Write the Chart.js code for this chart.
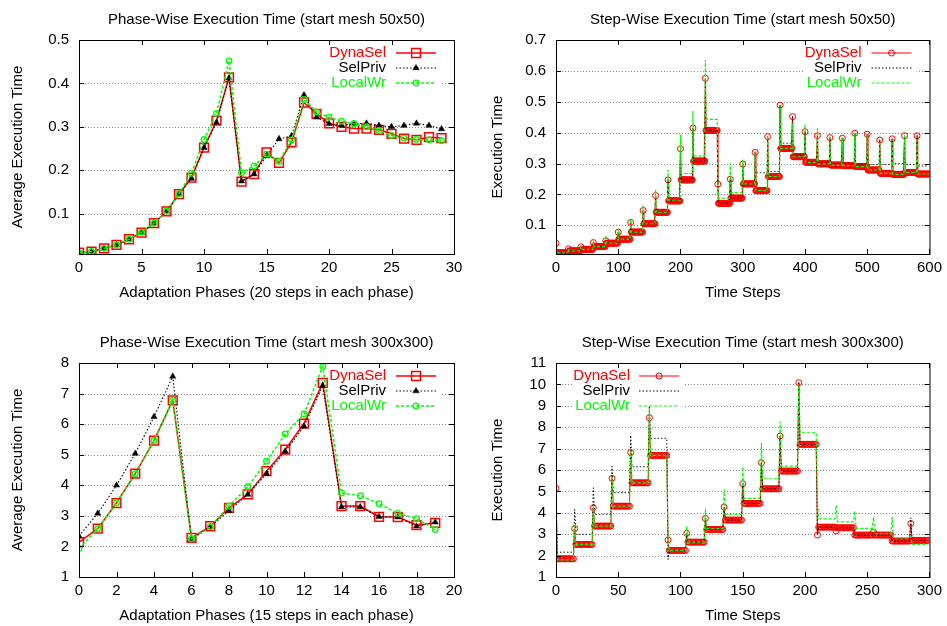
<!DOCTYPE html>
<html>
<head>
<meta charset="utf-8">
<script src="https://cdn.jsdelivr.net/npm/chart.js@4"></script>
<style>
html,body{margin:0;padding:0;background:#fff;}
#wrap{position:relative;width:947px;height:626px;overflow:hidden;background:#fff;}
#wrap canvas{position:absolute;left:0;top:0;}
</style>
</head>
<body>
<div id="wrap">
<canvas id="c1" width="947" height="626"></canvas>
<canvas id="c2" width="947" height="626"></canvas>
<canvas id="c3" width="947" height="626"></canvas>
<canvas id="c4" width="947" height="626"></canvas>
</div>
<script>
// ---------- Panel 1: phase-wise, start mesh 50x50 ----------
const phases50 = [0,1,2,3,4,5,6,7,8,9,10,11,12,13,14,15,16,17,18,19,20,21,22,23,24,25,26,27,28,29];
const dynaSel50 = [0.010,0.0125,0.020,0.028,0.041,0.056,0.078,0.105,0.145,0.183,0.252,0.314,0.414,0.174,0.191,0.241,0.217,0.264,0.356,0.330,0.308,0.300,0.296,0.296,0.293,0.284,0.273,0.270,0.276,0.274];
const selPriv50 = [0.010,0.012,0.020,0.028,0.041,0.056,0.078,0.105,0.145,0.181,0.252,0.310,0.412,0.175,0.191,0.233,0.272,0.279,0.373,0.322,0.307,0.303,0.307,0.308,0.303,0.300,0.303,0.308,0.303,0.295];
const localWr50 = [0.010,0.013,0.020,0.028,0.041,0.057,0.078,0.106,0.146,0.193,0.271,0.331,0.452,0.194,0.210,0.237,0.220,0.270,0.363,0.334,0.322,0.313,0.307,0.300,0.291,0.280,0.274,0.271,0.270,0.268];
const xTicks50 = [0,5,10,15,20,25,30];
const yTicks50 = [0.1,0.2,0.3,0.4,0.5];

// ---------- Panel 2: step-wise, start mesh 50x50 (20 steps per phase) ----------
const stepsPerPhase50 = 20;
const stepDynaSelSpike50 = [0.042,0.024,0.030,0.044,0.050,0.078,0.109,0.148,0.196,0.247,0.348,0.415,0.576,0.233,0.249,0.298,0.336,0.387,0.489,0.452,0.403,0.390,0.384,0.382,0.398,0.395,0.376,0.380,0.390,0.390];
const stepDynaSelLevel50 = [0.011,0.017,0.022,0.031,0.042,0.055,0.078,0.105,0.142,0.179,0.247,0.308,0.407,0.171,0.188,0.234,0.212,0.258,0.349,0.322,0.304,0.299,0.295,0.293,0.290,0.279,0.268,0.265,0.271,0.266];
const stepSelPrivSpike50 = [0.042,0.024,0.030,0.044,0.050,0.078,0.109,0.148,0.196,0.247,0.348,0.415,0.576,0.233,0.249,0.298,0.336,0.387,0.489,0.452,0.403,0.390,0.384,0.382,0.398,0.395,0.376,0.380,0.390,0.390];
const stepSelPrivLevel50 = [0.011,0.017,0.022,0.031,0.042,0.055,0.078,0.105,0.142,0.179,0.247,0.308,0.407,0.171,0.188,0.234,0.270,0.274,0.366,0.328,0.305,0.302,0.300,0.300,0.298,0.297,0.297,0.300,0.297,0.292];
const stepLocalWrSpike50 = [0.042,0.024,0.030,0.044,0.067,0.088,0.120,0.165,0.217,0.279,0.393,0.470,0.635,0.236,0.300,0.312,0.340,0.390,0.490,0.430,0.428,0.417,0.390,0.385,0.400,0.395,0.380,0.380,0.390,0.390];
const stepLocalWrLevel50 = [0.011,0.017,0.022,0.031,0.042,0.055,0.078,0.105,0.142,0.181,0.268,0.325,0.443,0.188,0.206,0.234,0.212,0.258,0.349,0.322,0.304,0.299,0.295,0.293,0.290,0.279,0.268,0.265,0.271,0.266];
const xTicksStep50 = [0,100,200,300,400,500,600];
const yTicksStep50 = [0.1,0.2,0.3,0.4,0.5,0.6,0.7];

// ---------- Panel 3: phase-wise, start mesh 300x300 ----------
const phases300 = [0,1,2,3,4,5,6,7,8,9,10,11,12,13,14,15,16,17,18,19];
const dynaSel300 = [2.14,2.58,3.42,4.38,5.46,6.78,2.28,2.66,3.26,3.70,4.46,5.17,6.02,7.35,3.32,3.32,2.97,2.96,2.70,2.77];
const selPriv300 = [2.34,3.08,4.00,5.04,6.24,7.56,2.23,2.64,3.17,3.70,4.38,5.11,5.93,7.26,3.29,3.29,2.97,2.96,2.66,2.79];
const localWr300 = [1.93,2.58,3.42,4.38,5.46,6.78,2.25,2.64,3.32,3.95,4.79,5.68,6.33,7.89,3.75,3.66,3.40,3.08,2.91,2.55];
const xTicks300 = [0,2,4,6,8,10,12,14,16,18,20];
const yTicks300 = [1,2,3,4,5,6,7,8];

// ---------- Panel 4: step-wise, start mesh 300x300 (15 steps per phase) ----------
const stepsPerPhase300 = 15;
const stepDynaSelSpike300 = [5.14,3.26,4.24,5.61,6.81,8.44,2.73,3.04,3.74,4.27,5.36,6.34,7.59,10.08,2.96,3.15,2.96,3.10,2.68,3.50];
const stepDynaSelLevel300 = [1.85,2.52,3.38,4.31,5.40,6.68,2.24,2.63,3.22,3.66,4.44,5.12,5.95,7.20,3.33,3.30,2.96,2.96,2.68,2.71];
const stepSelPrivSpike300 = [5.14,4.16,5.17,6.18,7.62,8.99,1.82,3.04,3.74,4.27,5.36,6.34,7.59,10.08,2.96,3.15,2.96,3.10,2.68,3.77];
const stepSelPrivLevel300 = [2.16,2.99,3.93,4.94,6.15,7.48,2.24,2.63,3.22,3.66,4.44,5.12,5.95,7.20,3.33,3.30,2.96,2.96,2.68,2.71];
const stepLocalWrSpike300 = [5.14,3.40,4.30,5.70,6.90,8.90,2.73,3.38,4.19,5.10,6.14,7.27,8.26,10.00,4.55,4.35,4.08,3.80,3.80,2.90];
const stepLocalWrLevel300 = [1.80,2.52,3.38,4.31,5.40,6.68,2.24,2.63,3.26,3.93,4.67,5.59,6.18,7.74,3.72,3.58,3.27,3.03,2.83,2.52];
const xTicksStep300 = [0,50,100,150,200,250,300];
const yTicksStep300 = [1,2,3,4,5,6,7,8,9,10,11];

// ---------- helpers ----------
const RED = '#ff0000', BLACK = '#000000', GREEN = '#00ff00';
const FONT = "'Liberation Sans', Arial, Helvetica, sans-serif";
Chart.defaults.font.family = FONT;
Chart.defaults.font.size = 15;
Chart.defaults.color = '#000';

function pairs(xs, ys) { return xs.map((x, i) => ({ x: x, y: ys[i] })); }
// expand per-phase readings (first step of each phase = spike, remaining steps = phase level)
function stepSeries(spikes, levels, perPhase) {
  const pts = [];
  spikes.forEach((s, k) => {
    for (let j = 0; j < perPhase; j++) pts.push({ x: k * perPhase + j, y: j === 0 ? s : levels[k] });
  });
  return pts;
}

function drawMarker(ctx, m, x, y) {
  if (!m) return;
  ctx.save();
  ctx.setLineDash([]);
  ctx.lineWidth = m.bw;
  ctx.strokeStyle = m.color;
  ctx.fillStyle = m.fill;
  ctx.beginPath();
  if (m.style === 'rect') {
    const h = m.r * Math.SQRT1_2;
    ctx.rect(x - h, y - h, 2 * h, 2 * h);
  } else if (m.style === 'triangle') {
    ctx.moveTo(x, y - m.r);
    ctx.lineTo(x + 0.866 * m.r, y + 0.5 * m.r);
    ctx.lineTo(x - 0.866 * m.r, y + 0.5 * m.r);
    ctx.closePath();
  } else {
    ctx.arc(x, y, m.r, 0, Math.PI * 2);
  }
  ctx.fill();
  if (m.bw > 0) ctx.stroke();
  ctx.restore();
}

function makePlugin(meta) {
  function geom(a) {
    const rows = [0, 1, 2].map(i => a.top + 12.5 + i * 15);
    let tr, s0, s1;
    if (meta.legend === 'left') { tr = a.left + 74; s0 = a.left + 83; s1 = a.left + 123; }
    else { tr = a.right - 68; s0 = a.right - 58; s1 = a.right - 18; }
    return { rows, tr, s0, s1, boxL: tr - 58, boxR: s1 + 5, boxT: rows[0] - 8, boxB: rows[2] + 8 };
  }
  return {
    id: 'gp',
    beforeDatasetsDraw(chart) {
      const { ctx, chartArea: a } = chart;
      const y = chart.scales.y;
      ctx.save();
      ctx.strokeStyle = '#8a8a8a';
      ctx.lineWidth = 1;
      ctx.setLineDash([1, 2]);
      y.ticks.forEach(t => {
        const py = Math.round(y.getPixelForValue(t.value)) + 0.5;
        ctx.beginPath(); ctx.moveTo(a.left, py); ctx.lineTo(a.right, py); ctx.stroke();
      });
      ctx.setLineDash([]);
      const g = geom(a);
      ctx.fillStyle = '#fff';
      ctx.fillRect(g.boxL, g.boxT, g.boxR - g.boxL, g.boxB - g.boxT);
      ctx.restore();
    },
    afterDatasetsDraw(chart) {
      const { ctx, chartArea: a } = chart;
      const xs = chart.scales.x, ys = chart.scales.y;
      ctx.save();
      // frame
      ctx.strokeStyle = '#000'; ctx.lineWidth = 1; ctx.setLineDash([]);
      ctx.strokeRect(a.left + 0.5, a.top + 0.5, a.right - a.left, a.bottom - a.top);
      // inward tick marks (mirrored)
      ctx.beginPath();
      xs.ticks.forEach(t => {
        const px = Math.round(xs.getPixelForValue(t.value)) + 0.5;
        ctx.moveTo(px, a.bottom); ctx.lineTo(px, a.bottom - 5);
        ctx.moveTo(px, a.top); ctx.lineTo(px, a.top + 5);
      });
      ys.ticks.forEach(t => {
        const py = Math.round(ys.getPixelForValue(t.value)) + 0.5;
        ctx.moveTo(a.left, py); ctx.lineTo(a.left + 5, py);
        ctx.moveTo(a.right, py); ctx.lineTo(a.right - 5, py);
      });
      ctx.stroke();
      // legend
      const g = geom(a);
      ctx.font = '15px ' + FONT;
      ctx.textAlign = 'right';
      ctx.textBaseline = 'middle';
      meta.series.forEach((s, i) => {
        const yy = g.rows[i];
        ctx.fillStyle = s.color;
        ctx.fillText(s.label, g.tr, yy + 0.5);
        ctx.save();
        ctx.strokeStyle = s.color; ctx.lineWidth = s.lw; ctx.setLineDash(s.dash);
        ctx.beginPath(); ctx.moveTo(g.s0, yy + 0.5); ctx.lineTo(g.s1, yy + 0.5); ctx.stroke();
        ctx.restore();
        drawMarker(ctx, s.marker, (g.s0 + g.s1) / 2, yy + 0.5);
      });
      // titles
      ctx.fillStyle = '#000';
      ctx.textAlign = 'center';
      ctx.textBaseline = 'alphabetic';
      const cx = (a.left + a.right) / 2;
      ctx.fillText(meta.title, cx, a.top - 16);
      ctx.fillText(meta.xTitle, cx, a.bottom + 43);
      ctx.save();
      ctx.translate(meta.yTitleX, (a.top + a.bottom) / 2);
      ctx.rotate(-Math.PI / 2);
      ctx.fillText(meta.yTitle, 0, 0);
      ctx.restore();
      ctx.restore();
    }
  };
}

function build(id, meta, datasets, xr, yr, xt, yt, area) {
  const YW = 40, XH = 30;
  return new Chart(document.getElementById(id), {
    type: 'line',
    data: { datasets: datasets },
    options: {
      responsive: false, animation: false, devicePixelRatio: 1, events: [],
      layout: { padding: { left: area.l - YW, right: 947 - area.r, top: area.t, bottom: 626 - area.b - XH } },
      plugins: { legend: { display: false }, tooltip: { enabled: false }, title: { display: false } },
      scales: {
        x: {
          type: 'linear', min: xr[0], max: xr[1],
          grid: { display: false, drawTicks: false }, border: { display: false },
          ticks: { color: '#000', padding: 5, maxRotation: 0, autoSkip: false, font: { size: 15 }, callback: v => String(v) },
          afterBuildTicks: s => { s.ticks = xt.map(v => ({ value: v })); },
          afterFit: s => { s.height = XH; }
        },
        y: {
          type: 'linear', min: yr[0], max: yr[1],
          grid: { display: false, drawTicks: false }, border: { display: false },
          ticks: { color: '#000', padding: 10, autoSkip: false, font: { size: 15 }, callback: v => String(v) },
          afterBuildTicks: s => { s.ticks = yt.map(v => ({ value: v })); },
          afterFit: s => { s.width = YW; }
        }
      }
    },
    plugins: [makePlugin(meta)]
  });
}

// marker styles
const mSquare = { style: 'rect', r: 6.2, bw: 1.5, color: RED, fill: 'rgba(0,0,0,0)' };
const mTri = { style: 'triangle', r: 3.6, bw: 0.5, color: BLACK, fill: BLACK };
const mCirc = { style: 'circle', r: 2.8, bw: 1.3, color: GREEN, fill: 'rgba(0,0,0,0)' };
const mStepCirc = { style: 'circle', r: 3, bw: 1, color: RED, fill: 'rgba(0,0,0,0)' };

function phaseSets(xs, d, s, l) {
  return [
    { label: 'DynaSel', data: pairs(xs, d), borderColor: RED, borderWidth: 1.5, order: 3,
      pointStyle: 'rect', pointRadius: mSquare.r, pointBorderWidth: mSquare.bw, pointBorderColor: RED, pointBackgroundColor: 'rgba(0,0,0,0)' },
    { label: 'SelPriv', data: pairs(xs, s), borderColor: BLACK, borderWidth: 1.1, borderDash: [1.5, 2], order: 2,
      pointStyle: 'triangle', pointRadius: mTri.r, pointBorderWidth: 0.5, pointBorderColor: BLACK, pointBackgroundColor: BLACK },
    { label: 'LocalWr', data: pairs(xs, l), borderColor: GREEN, borderWidth: 1.5, borderDash: [3, 2], order: 1,
      pointStyle: 'circle', pointRadius: mCirc.r, pointBorderWidth: mCirc.bw, pointBorderColor: GREEN, pointBackgroundColor: 'rgba(0,0,0,0)' }
  ];
}
function stepSets(d, s, l) {
  return [
    { label: 'DynaSel', data: d, borderColor: RED, borderWidth: 1, order: 3,
      pointStyle: 'circle', pointRadius: mStepCirc.r, pointBorderWidth: 1, pointBorderColor: RED, pointBackgroundColor: 'rgba(0,0,0,0)' },
    { label: 'SelPriv', data: s, borderColor: BLACK, borderWidth: 1, borderDash: [1.5, 2], order: 2, pointRadius: 0 },
    { label: 'LocalWr', data: l, borderColor: GREEN, borderWidth: 1.2, borderDash: [3, 2], order: 1, pointRadius: 0 }
  ];
}
const phaseLegend = [
  { label: 'DynaSel', color: RED, lw: 1.5, dash: [], marker: mSquare },
  { label: 'SelPriv', color: BLACK, lw: 1.1, dash: [1.5, 2], marker: mTri },
  { label: 'LocalWr', color: GREEN, lw: 1.5, dash: [3, 2], marker: mCirc }
];
const stepLegend = [
  { label: 'DynaSel', color: RED, lw: 1, dash: [], marker: mStepCirc },
  { label: 'SelPriv', color: BLACK, lw: 1, dash: [1.5, 2], marker: null },
  { label: 'LocalWr', color: GREEN, lw: 1.2, dash: [3, 2], marker: null }
];

build('c1',
  { title: 'Phase-Wise Execution Time (start mesh 50x50)', xTitle: 'Adaptation Phases (20 steps in each phase)',
    yTitle: 'Average Execution Time', yTitleX: 22, legend: 'right', series: phaseLegend },
  phaseSets(phases50, dynaSel50, selPriv50, localWr50),
  [0, 30], [0.007, 0.5], xTicks50, yTicks50, { l: 79, r: 454, t: 40, b: 254 });

build('c2',
  { title: 'Step-Wise Execution Time (start mesh 50x50)', xTitle: 'Time Steps',
    yTitle: 'Execution Time', yTitleX: 502, legend: 'right', series: stepLegend },
  stepSets(stepSeries(stepDynaSelSpike50, stepDynaSelLevel50, stepsPerPhase50),
           stepSeries(stepSelPrivSpike50, stepSelPrivLevel50, stepsPerPhase50),
           stepSeries(stepLocalWrSpike50, stepLocalWrLevel50, stepsPerPhase50)),
  [0, 600], [0.007, 0.7], xTicksStep50, yTicksStep50, { l: 556, r: 932, t: 40, b: 254 });

build('c3',
  { title: 'Phase-Wise Execution Time (start mesh 300x300)', xTitle: 'Adaptation Phases (15 steps in each phase)',
    yTitle: 'Average Execution Time', yTitleX: 22, legend: 'right', series: phaseLegend },
  phaseSets(phases300, dynaSel300, selPriv300, localWr300),
  [0, 20], [1, 8], xTicks300, yTicks300, { l: 79, r: 454, t: 363, b: 577 });

build('c4',
  { title: 'Step-Wise Execution Time (start mesh 300x300)', xTitle: 'Time Steps',
    yTitle: 'Execution Time', yTitleX: 502, legend: 'left', series: stepLegend },
  stepSets(stepSeries(stepDynaSelSpike300, stepDynaSelLevel300, stepsPerPhase300),
           stepSeries(stepSelPrivSpike300, stepSelPrivLevel300, stepsPerPhase300),
           stepSeries(stepLocalWrSpike300, stepLocalWrLevel300, stepsPerPhase300)),
  [0, 300], [1, 11], xTicksStep300, yTicksStep300, { l: 556, r: 932, t: 363, b: 577 });
</script>
</body>
</html>
